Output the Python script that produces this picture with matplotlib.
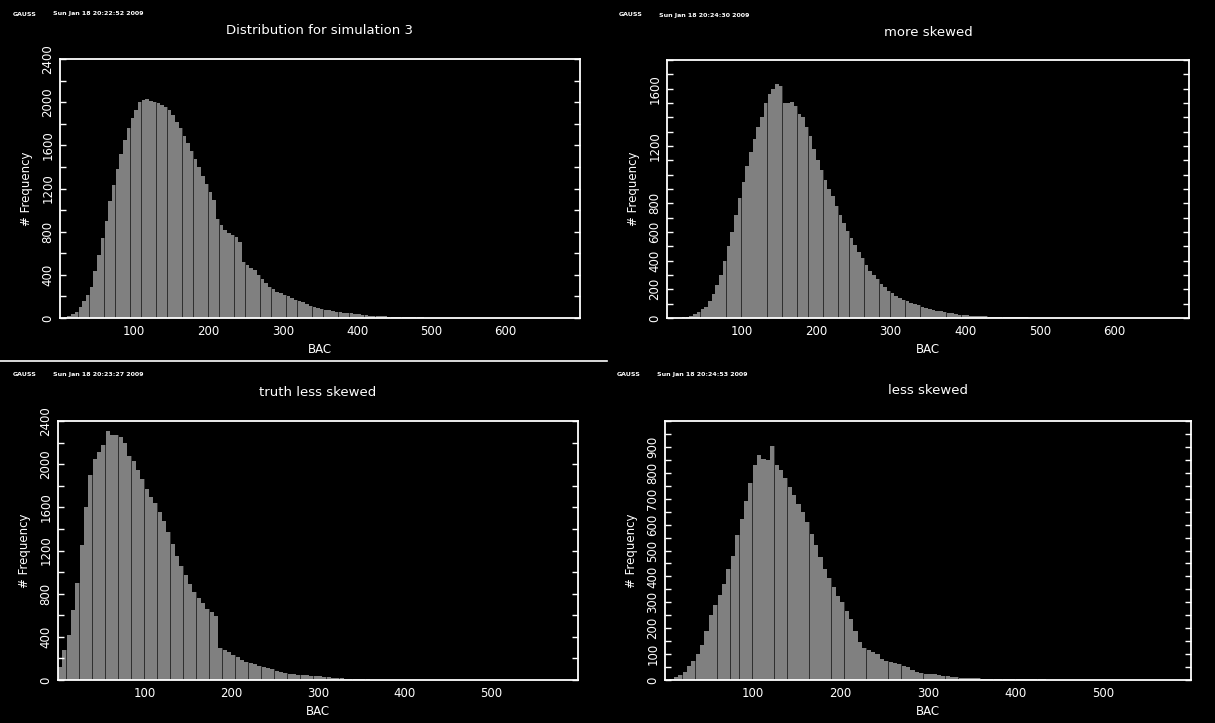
import numpy as np
import matplotlib
matplotlib.use('Agg')
import matplotlib.pyplot as plt
from matplotlib.ticker import MultipleLocator, FixedLocator
from matplotlib.lines import Line2D

BIN = 5  # BAC bin width

# counts per 5-unit BAC bin, starting at BAC 0
sim3_counts = [0, 8, 15, 35, 60, 100, 155, 210, 290, 440,
               580, 740, 900, 1080, 1230, 1380, 1520, 1650, 1760, 1850,
               1930, 2000, 2020, 2025, 2010, 2000, 1990, 1970, 1955, 1930,
               1880, 1820, 1760, 1690, 1620, 1550, 1470, 1400, 1320, 1240,
               1170, 1090, 920, 860, 820, 790, 770, 750, 700, 520,
               490, 465, 445, 400, 360, 320, 285, 265, 245, 230,
               215, 200, 185, 170, 155, 145, 130, 115, 103, 92,
               85, 78, 70, 63, 58, 54, 50, 46, 43, 38,
               34, 30, 26, 23, 20, 18, 16, 14, 12, 11,
               10, 9, 8, 7, 6, 6, 5, 5, 4, 4,
               3, 3, 3, 3, 2, 2, 2, 2, 2, 2,
               1, 1, 1, 1, 1, 1, 1, 1, 1, 1, 1, 1, 1, 1, 1, 1]

more_counts = [0, 0, 1, 2, 4, 8, 15, 30, 45, 60,
               80, 120, 170, 230, 300, 400, 500, 600, 720, 840,
               950, 1060, 1160, 1250, 1330, 1400, 1500, 1560, 1600, 1630,
               1620, 1500, 1500, 1510, 1480, 1420, 1400, 1330, 1270, 1180,
               1100, 1030, 960, 900, 850, 780, 720, 660, 610, 560,
               510, 460, 420, 370, 330, 300, 270, 240, 215, 190,
               172, 155, 140, 128, 118, 108, 100, 90, 80, 72,
               65, 58, 52, 46, 41, 36, 32, 28, 24, 21,
               19, 17, 15, 13, 12, 11, 10, 9, 8, 7,
               6, 6, 5, 5, 4, 4, 4, 3, 3, 3,
               2, 2, 2, 2, 2, 2, 2, 2, 2, 2,
               1, 1, 1, 1, 1, 1, 1, 1, 1, 1, 1, 1, 1, 1, 1]

truth_counts = [120, 280, 420, 650, 900, 1250, 1600, 1900, 2050, 2110,
                2180, 2310, 2270, 2270, 2250, 2200, 2080, 2030, 1950, 1860,
                1770, 1700, 1640, 1560, 1470, 1370, 1260, 1150, 1060, 970,
                890, 820, 760, 710, 660, 630, 590, 300, 280, 262,
                235, 210, 185, 165, 155, 145, 132, 120, 112, 100,
                88, 76, 66, 60, 54, 50, 47, 44, 40, 36,
                33, 30, 26, 23, 20, 17, 10, 8, 7, 6,
                5, 5, 4, 4, 3, 3, 3, 3, 3, 2,
                2, 2, 2, 2, 2, 2, 2, 2, 2, 2,
                1, 1, 1, 1, 1, 1, 1, 1, 1, 1, 1, 1, 1]

less_counts = [0, 3, 12, 20, 30, 55, 75, 100, 135, 190,
               250, 290, 330, 370, 430, 480, 560, 620, 690, 760,
               830, 870, 855, 850, 905, 830, 810, 780, 745, 715,
               680, 650, 610, 565, 520, 475, 430, 395, 360, 325,
               300, 265, 235, 190, 145, 125, 115, 108, 100, 80,
               75, 70, 65, 60, 55, 50, 38, 32, 27, 25,
               23, 22, 20, 17, 15, 12, 10, 9, 8, 7,
               6, 6, 5, 5, 4, 4, 3, 3, 3, 3,
               3, 2, 2, 2, 2, 2, 2, 1, 1, 1,
               1, 1, 1, 1, 1, 1, 1, 1, 1, 1, 1, 1, 1]

titles = ['Distribution for simulation 3', 'more skewed', 'truth less skewed', 'less skewed']
stamps = ['Sun Jan 18 20:22:52 2009', 'Sun Jan 18 20:24:30 2009',
          'Sun Jan 18 20:23:27 2009', 'Sun Jan 18 20:24:53 2009']
xmax = [700, 700, 600, 600]
ymax = [2400, 1800, 2400, 1000]
ymajor = [[0, 400, 800, 1200, 1600, 2000, 2400],
          [0, 200, 400, 600, 800, 1200, 1600],
          [0, 400, 800, 1200, 1600, 2000, 2400],
          [0, 100, 200, 300, 400, 500, 600, 700, 800, 900]]
yminor = [200, 100, 200, 50]
xticks = [[100, 200, 300, 400, 500, 600], [100, 200, 300, 400, 500, 600],
          [100, 200, 300, 400, 500], [100, 200, 300, 400, 500]]
all_counts = [sim3_counts, more_counts, truth_counts, less_counts]

W, H = 1215, 723
# axes boxes in pixels: left, top, right, bottom
boxes = [(60, 59, 580, 318), (667, 60, 1189, 318),
         (58, 421, 578, 680), (665, 421, 1191, 680)]
stamp_pos = [(13, 14), (619, 15), (13, 374), (617, 374)]
title_y = [30, 32, 392, 391]

fig = plt.figure(figsize=(W / 100, H / 100), dpi=100, facecolor='black')

for i in range(4):
    l, t, r, b = boxes[i]
    ax = fig.add_axes([l / W, 1 - b / H, (r - l) / W, (b - t) / H])
    ax.set_facecolor('black')
    counts = np.array(all_counts[i])
    left = np.arange(len(counts)) * BIN
    # dark underlay + slightly narrow grey bars -> scattered dark seams like the original
    ax.bar(left, counts, width=BIN, align='edge', color='#303030', linewidth=0, antialiased=False)
    ax.bar(left, counts, width=BIN * 0.94, align='edge', color='#808080', linewidth=0, antialiased=False)
    ax.set_xlim(0, xmax[i])
    ax.set_ylim(0, ymax[i])

    for s in ax.spines.values():
        s.set_color('white')
        s.set_linewidth(1.3)
    ax.yaxis.set_major_locator(FixedLocator(ymajor[i]))
    ax.yaxis.set_minor_locator(MultipleLocator(yminor[i]))
    ax.xaxis.set_major_locator(FixedLocator(xticks[i]))
    ax.tick_params(axis='y', which='both', direction='in', length=4, width=1, color='white',
                   left=True, right=True, labelcolor='white', labelsize=8.5, pad=4,
                   labelrotation=90)
    ax.tick_params(axis='x', which='both', direction='in', length=0, color='white',
                   labelcolor='white', labelsize=8.5, pad=5)
    for lab in ax.get_yticklabels():
        lab.set_va('center')

    ax.set_xlabel('BAC', color='white', fontsize=8.5)
    ax.xaxis.set_label_coords(0.5, -0.095)
    ax.set_ylabel('# Frequency', color='white', fontsize=8.5)
    ax.yaxis.set_label_coords(-0.052, 0.5)

    fig.text((l + r) / 2 / W, 1 - title_y[i] / H, titles[i], color='white',
             fontsize=9.5, ha='center', va='center')
    sx, sy = stamp_pos[i]
    fig.text(sx / W, 1 - sy / H, 'GAUSS', color='white', fontsize=4.5,
             fontweight='bold', ha='left', va='center')
    fig.text((sx + 40) / W, 1 - sy / H, stamps[i], color='white', fontsize=4.5,
             fontweight='bold', ha='left', va='center')

# white separator under the top-left screen
fig.add_artist(Line2D([0, 607 / W], [1 - 361 / H] * 2, color='white', lw=1.2,
                      transform=fig.transFigure))

fig.savefig('out.png', dpi=100, facecolor='black')
